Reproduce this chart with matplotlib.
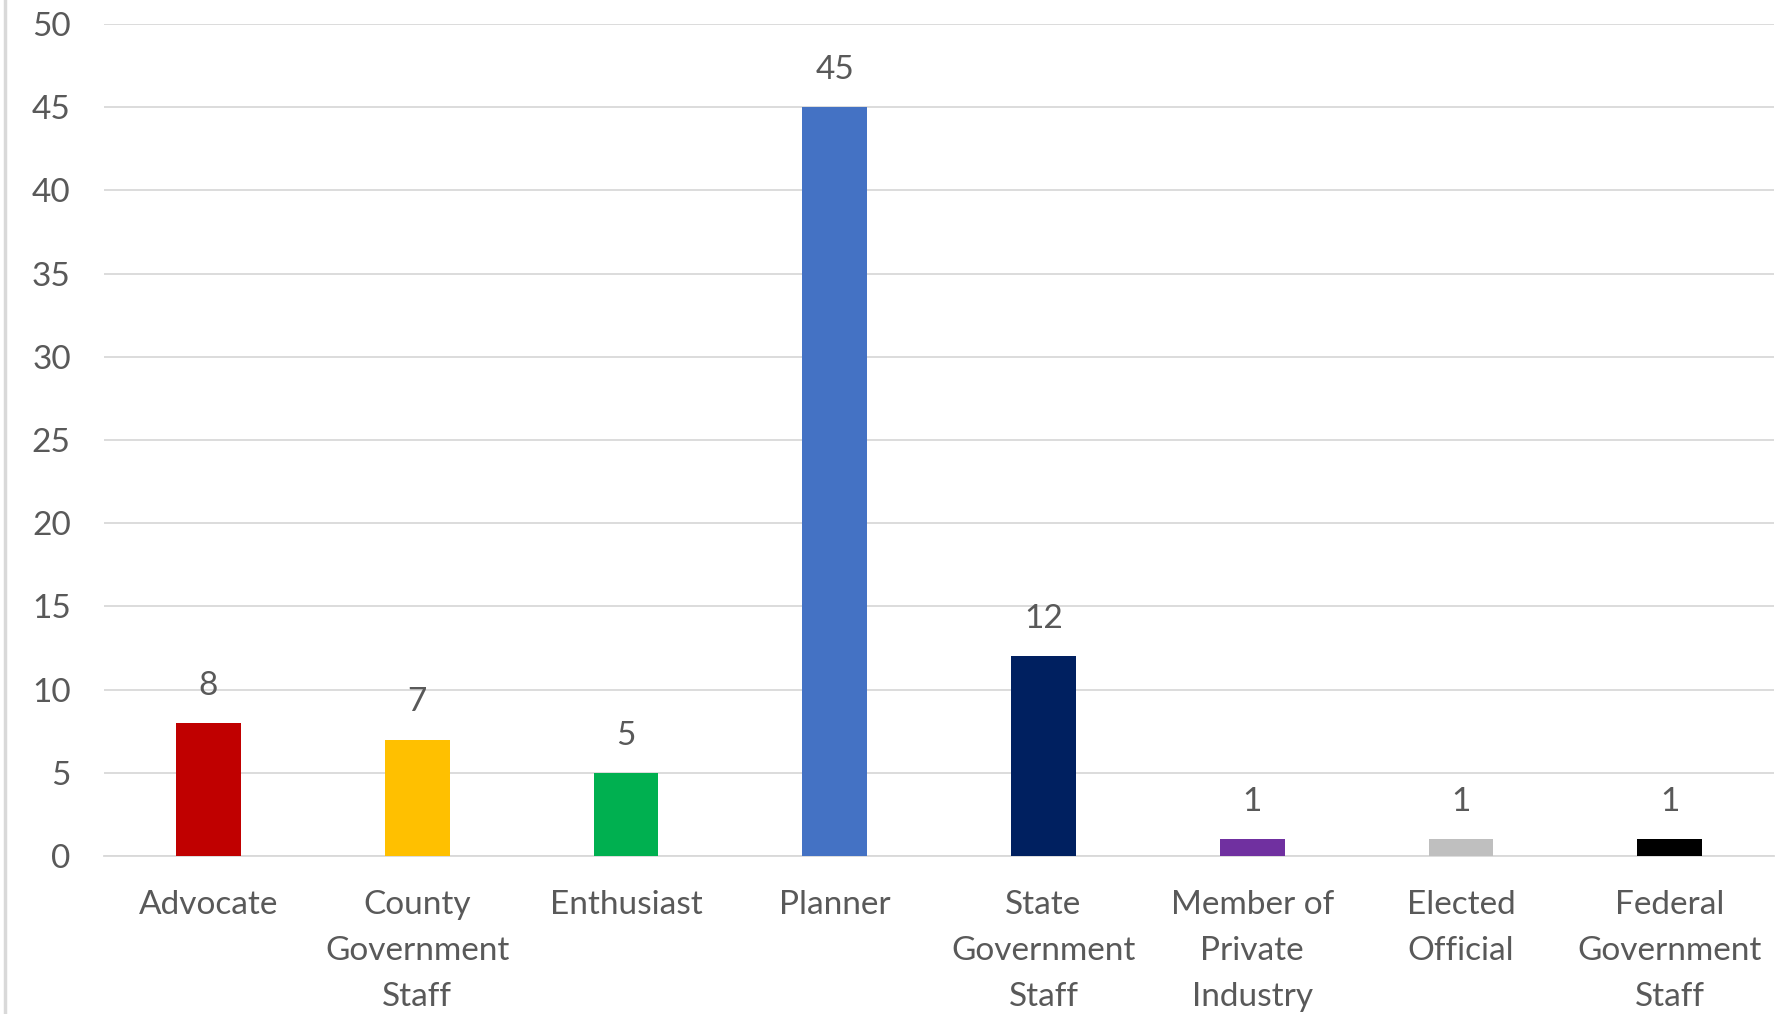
import matplotlib.pyplot as plt
from matplotlib.lines import Line2D

categories = ["Advocate", "County\nGovernment\nStaff", "Enthusiast", "Planner",
              "State\nGovernment\nStaff", "Member of\nPrivate\nIndustry",
              "Elected\nOfficial", "Federal\nGovernment\nStaff"]
counts = [8, 7, 5, 45, 12, 1, 1, 1]
colors = ["#C00000", "#FFC000", "#00B050", "#4472C4",
          "#002060", "#7030A0", "#BFBFBF", "#000000"]

text_color = "#595959"
grid_color = "#D9D9D9"

plt.rcParams['font.family'] = ['Lato', 'DejaVu Sans']

fig = plt.figure(figsize=(17.76, 10.14), dpi=100)
ax = fig.add_axes([0.0586, 0.1558, 0.9403, 0.8205])

x = range(len(categories))
bars = ax.bar(x, counts, width=0.31, color=colors, zorder=3)

for rect, v in zip(bars, counts):
    ax.annotate(str(v), xy=(rect.get_x() + rect.get_width() / 2, v),
                xytext=(0, 16), textcoords="offset points",
                ha="center", va="bottom", fontsize=24, color=text_color)

ax.set_xlim(-0.5, len(categories) - 0.5)
ax.set_ylim(0, 50)
ax.set_yticks(range(0, 51, 5))
ax.set_xticks(list(x))
ax.set_xticklabels(categories, fontsize=24, color=text_color, linespacing=1.66)
ax.tick_params(axis="y", labelsize=24, labelcolor=text_color, length=0, pad=24)
ax.tick_params(axis="x", length=0, pad=24.5)

ax.yaxis.grid(True, color=grid_color, linewidth=1.3, zorder=0)
for s in ["top", "right", "left"]:
    ax.spines[s].set_visible(False)
ax.spines["bottom"].set_color(grid_color)
ax.spines["bottom"].set_linewidth(1.3)

# thin frame edge on the left side of the chart area
fig.add_artist(Line2D([0.0028, 0.0028], [0, 1], color=grid_color, linewidth=2.5,
                      transform=fig.transFigure))

fig.savefig("out.png", dpi=100)
